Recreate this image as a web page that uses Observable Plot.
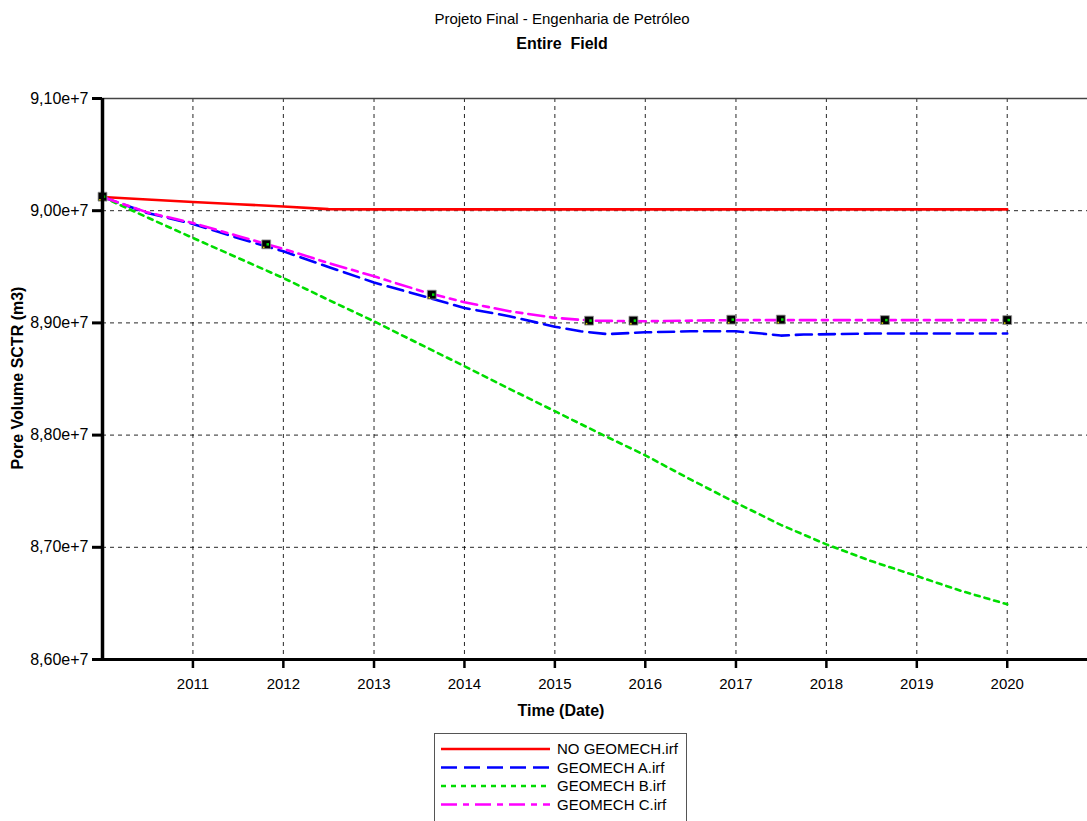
<!DOCTYPE html>
<html><head><meta charset="utf-8">
<script src="https://cdn.jsdelivr.net/npm/d3@7"></script>
<script src="https://cdn.jsdelivr.net/npm/@observablehq/plot@0.6"></script>
<style>
body{margin:0;background:#fff;font-family:'Liberation Sans',Arial,sans-serif;}
#wrap{position:relative;width:1087px;height:821px;overflow:hidden;background:#fff}
.t{position:absolute;white-space:nowrap;color:#000;line-height:1}
#chart{position:absolute;left:0;top:0}
#legend{position:absolute;left:434px;top:733px;width:253px;height:95px;border:1px solid #555;box-sizing:border-box;background:#fff}
</style></head><body>
<div id="wrap">
  <div id="chart"></div>
  <div class="t" style="left:562px;top:11px;transform:translateX(-50%);font-size:15px">Projeto Final - Engenharia de Petróleo</div>
  <div class="t" style="left:562px;top:36px;transform:translateX(-50%);font-size:16px;font-weight:bold">Entire&nbsp; Field</div>
  <div class="t" style="left:561px;top:703px;transform:translateX(-50%);font-size:16px;font-weight:bold">Time (Date)</div>
  <div class="t" style="left:18px;top:378px;transform:translate(-50%,-50%) rotate(-90deg);font-size:16px;font-weight:bold">Pore Volume SCTR (m3)</div>
  <div id="legend"></div>
</div>
<script>
// ---- data (values in m3) ----
const seriesNames = ["NO GEOMECH.irf", "GEOMECH A.irf", "GEOMECH B.irf", "GEOMECH C.irf"];
const seriesColors = ["#ff0000", "#0000ff", "#00dd00", "#ff00ff"];
const seriesDash = [null, "16,7", "5,5", "16,6,6,6"];

const noGeomechDates = ["2010-01-01","2010-07-01","2011-01-01","2011-07-01","2012-01-01","2012-07-01","2013-01-01","2014-01-01","2015-01-01","2016-01-01","2017-01-01","2018-01-01","2019-01-01","2020-01-01"];
const noGeomechValues = [90122000,90100000,90077000,90057000,90038000,90014000,90012000,90012000,90012000,90012000,90012000,90012000,90012000,90012000];

const geomechADates = ["2010-01-01","2010-07-01","2011-01-01","2011-07-01","2012-01-01","2012-07-01","2013-01-01","2013-08-01","2014-01-01","2014-07-01","2015-01-01","2015-04-15","2015-08-01","2016-01-01","2016-07-01","2017-01-01","2017-04-15","2017-07-01","2017-10-01","2018-07-01","2019-07-01","2020-01-01"];
const geomechAValues = [90122000,89980000,89882000,89757000,89638000,89499000,89360000,89230000,89133000,89060000,88966000,88925000,88900000,88916000,88925000,88925000,88905000,88887000,88896000,88905000,88905000,88905000];

const geomechBDates = ["2010-01-01","2010-07-01","2011-01-01","2011-07-01","2012-01-01","2012-07-01","2013-01-01","2013-07-01","2014-01-01","2014-07-01","2015-01-01","2015-07-01","2016-01-01","2016-07-01","2017-01-01","2017-07-01","2018-01-01","2018-07-01","2019-01-01","2019-07-01","2020-01-01"];
const geomechBValues = [90122000,89940000,89757000,89580000,89400000,89205000,89014000,88815000,88614000,88413000,88213000,88015000,87820000,87605000,87397000,87200000,87026000,86877000,86744000,86610000,86492000];

const geomechCDates = ["2010-01-01","2010-07-01","2011-01-01","2011-07-01","2012-01-01","2012-07-01","2013-01-01","2013-08-01","2014-01-01","2014-07-01","2015-01-01","2015-06-01","2016-01-01","2017-01-01","2018-01-01","2019-01-01","2020-01-01"];
const geomechCValues = [90122000,89985000,89890000,89775000,89660000,89534000,89415000,89270000,89184000,89104000,89045000,89020000,89015000,89025000,89025000,89025000,89025000];

const observedDates = ["2010-01-01","2011-10-24","2013-08-22","2015-05-19","2015-11-14","2016-12-13","2017-07-01","2018-08-25","2020-01-01"];
const observedValues = [90125000,89700000,89252000,89020000,89020000,89029000,89030000,89025000,89025000];

const yTicks = [86000000, 87000000, 88000000, 89000000, 90000000, 91000000];
const yGrid = [87000000, 88000000, 89000000, 90000000];
const xTickYears = [2011,2012,2013,2014,2015,2016,2017,2018,2019,2020];
const xDomain = ["2010-01-01", "2020-11-20"];

// ---- build tables ----
const toRows = (ds, vs) => ds.map((d, i) => ({date: new Date(d), value: vs[i]}));
const seriesRows = [
  toRows(noGeomechDates, noGeomechValues),
  toRows(geomechADates, geomechAValues),
  toRows(geomechBDates, geomechBValues),
  toRows(geomechCDates, geomechCValues)
];
const observed = toRows(observedDates, observedValues);
const xTicks = xTickYears.map(y => new Date(Date.UTC(y, 0, 1)));
const x0 = new Date(xDomain[0]);

const lineMarks = seriesRows.map((rows, i) => Plot.line(rows, {
  x: "date", y: "value", stroke: seriesColors[i], strokeWidth: 2.6,
  strokeDasharray: seriesDash[i] || undefined
}));

const chart = Plot.plot({
  width: 1087,
  height: 730,
  marginLeft: 102,
  marginRight: 0,
  marginTop: 98,
  marginBottom: 71,
  style: {fontFamily: "'Liberation Sans', Arial, sans-serif", background: "transparent", color: "#000", overflow: "visible"},
  x: {type: "utc", domain: xDomain.map(d => new Date(d))},
  y: {domain: [86000000, 91000000]},
  marks: [
    Plot.gridX(xTicks, {stroke: "#000", strokeOpacity: 0.85, strokeDasharray: "4,4", strokeWidth: 1}),
    Plot.gridY(yGrid, {stroke: "#000", strokeOpacity: 0.85, strokeDasharray: "4,4", strokeWidth: 1}),
    Plot.ruleY([91000000], {stroke: "#444", strokeWidth: 1.3}),
    ...lineMarks,
    Plot.dot(observed, {x: "date", y: "value", symbol: "square", r: 5, fill: "#000", stroke: "#999", strokeWidth: 0.8}),
    Plot.dot(observed, {x: "date", y: "value", symbol: "square", r: 1.4, fill: "#00e000", dx: 1.5}),
    Plot.dot(observed, {x: "date", y: "value", symbol: "square", r: 0.9, fill: "#d8d800", dx: -2.5, dy: 3}),
    Plot.ruleX([x0], {stroke: "#000", strokeWidth: 3.5}),
    Plot.ruleY([86000000], {stroke: "#000", strokeWidth: 3}),
    Plot.axisY({ticks: yTicks, tickFormat: d => (d / 1e7).toFixed(2).replace(".", ",") + "e+7",
      tickSize: 10, tickPadding: 4, strokeWidth: 3, fontSize: 16, label: null}),
    Plot.axisX({ticks: xTicks, tickFormat: d3.utcFormat("%Y"), tickSize: 9, tickPadding: 9.5,
      strokeWidth: 2.5, fontSize: 15, label: null})
  ]
});
document.getElementById("chart").appendChild(chart);

// ---- legend ----
const leg = d3.select("#legend").append("svg").attr("width", 253).attr("height", 95);
const rowY = [15, 33.5, 52, 70.5];
seriesNames.forEach((name, i) => {
  leg.append("line").attr("x1", 6).attr("x2", 115).attr("y1", rowY[i]).attr("y2", rowY[i])
    .attr("stroke", seriesColors[i]).attr("stroke-width", 2.6)
    .attr("stroke-dasharray", seriesDash[i]);
  leg.append("text").attr("x", 122).attr("y", rowY[i]).attr("dy", "0.36em")
    .attr("font-family", "'Liberation Sans', Arial, sans-serif").attr("font-size", 15)
    .attr("fill", "#000").text(name);
});
</script>
</body></html>
